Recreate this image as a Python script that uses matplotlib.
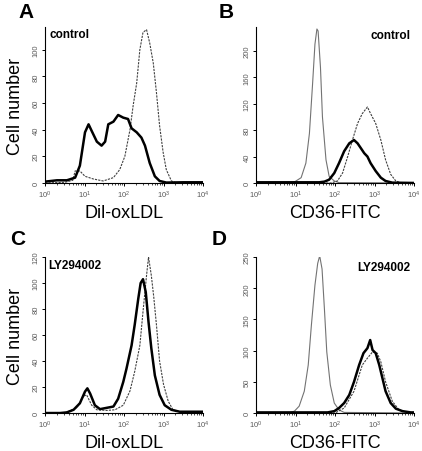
import matplotlib
matplotlib.use("Agg")
import matplotlib.pyplot as plt
import numpy as np

plt.rcParams['font.family'] = ['Liberation Sans', 'DejaVu Sans']

# --- data (x as log10 of fluorescence, y as cell number) ---
# A: control, Dil-oxLDL
a_solid_lx = [0.0, 0.3, 0.55, 0.76, 0.88, 1.01, 1.1, 1.18, 1.31, 1.43, 1.52, 1.6, 1.73, 1.85,
              1.98, 2.1, 2.19, 2.32, 2.44, 2.53, 2.65, 2.78, 2.9, 3.07, 3.5, 4.0]
a_solid_y = [1, 2, 2, 4, 13, 38, 44, 39, 31, 28, 31, 44, 46, 51,
             49, 48, 41, 38, 34, 28, 15, 5, 1.5, 0.3, 0.5, 0.5]
a_dot_lx = [0.0, 0.5, 0.7, 0.76, 0.88, 1.01, 1.22, 1.47, 1.73, 1.89, 2.02, 2.15, 2.23, 2.32,
            2.4, 2.48, 2.57, 2.65, 2.74, 2.82, 2.9, 2.99, 3.07, 3.2, 3.33, 4.0]
a_dot_y = [0, 0.5, 2, 9, 9, 5, 3, 1.5, 4, 10, 20, 40, 58, 75,
           100, 113, 115, 105, 90, 68, 43, 23, 10, 1.5, 0, 0]

# B: control, CD36-FITC
b_iso_lx = [0.0, 0.8, 0.97, 1.14, 1.26, 1.35, 1.43, 1.49, 1.54, 1.57, 1.63, 1.68, 1.77, 1.85,
            1.98, 2.1, 4.0]
b_iso_y = [0, 0, 1.5, 8, 30, 75, 150, 210, 233, 230, 175, 100, 35, 10, 3, 0.5, 0]
b_solid_lx = [0.0, 1.6, 1.73, 1.85, 1.98, 2.1, 2.23, 2.36, 2.48, 2.57, 2.65, 2.74, 2.82, 2.9,
              3.03, 3.16, 3.28, 3.45, 4.0]
b_solid_y = [1, 1, 2, 5, 15, 30, 48, 60, 65, 60, 53, 45, 40, 30, 18, 8, 3, 0.5, 0]
b_dot_lx = [0.0, 1.9, 2.06, 2.19, 2.32, 2.44, 2.57, 2.69, 2.82, 2.9, 3.03, 3.16, 3.28, 3.41,
            3.54, 3.66, 4.0]
b_dot_y = [0, 0, 3, 15, 40, 65, 90, 105, 115, 105, 90, 65, 35, 13, 3, 0.5, 0]

# C: LY294002, Dil-oxLDL
c_solid_lx = [0.0, 0.38, 0.55, 0.72, 0.88, 1.01, 1.07, 1.14, 1.26, 1.39, 1.56, 1.73, 1.85, 1.98,
              2.06, 2.19, 2.27, 2.36, 2.42, 2.48, 2.55, 2.62, 2.69, 2.78, 2.9, 3.03, 3.2, 3.41, 4.0]
c_solid_y = [0, 0, 0.5, 2.5, 7.5, 16.5, 19, 15, 6, 3, 4, 5, 11, 24,
             34, 52, 68, 88, 100, 103, 93, 70, 50, 29, 14, 6, 2.5, 1, 1]
c_dot_lx = [0.0, 0.5, 0.8, 0.97, 1.05, 1.18, 1.31, 1.56, 1.77, 1.98, 2.15, 2.27, 2.4, 2.48,
            2.57, 2.62, 2.69, 2.75, 2.82, 2.9, 3.0, 3.12, 3.24, 3.41, 4.0]
c_dot_y = [0, 0, 4, 13, 14, 6, 2.5, 2, 2.5, 6, 17, 32, 52, 78,
           106, 120, 106, 90, 68, 40, 22, 9, 2.5, 1, 0.5]

# D: LY294002, CD36-FITC
d_iso_lx = [0.0, 0.8, 0.97, 1.09, 1.22, 1.32, 1.4, 1.49, 1.56, 1.61, 1.67, 1.73, 1.79, 1.88,
            1.98, 2.1, 2.23, 4.0]
d_iso_y = [0, 0, 3, 11, 35, 77, 141, 205, 240, 252, 231, 167, 98, 45, 16, 5, 1, 0]
d_solid_lx = [0.0, 1.81, 1.98, 2.1, 2.23, 2.36, 2.48, 2.61, 2.72, 2.82, 2.89, 2.95, 3.03, 3.12,
              3.2, 3.28, 3.41, 3.54, 3.71, 3.92, 4.0]
d_solid_y = [1, 1, 3, 8, 16, 29, 50, 77, 96, 104, 117, 101, 96, 77,
             56, 35, 16, 7, 3, 1, 1]
d_dot_lx = [0.0, 2.0, 2.23, 2.48, 2.69, 2.82, 2.95, 3.07, 3.16, 3.28, 3.45, 3.62, 3.83, 4.0]
d_dot_y = [0, 0, 8, 35, 77, 88, 98, 96, 82, 50, 19, 5, 1, 0]

panels = ['A', 'B', 'C', 'D']
treatments = ['control', 'control', 'LY294002', 'LY294002']
xlabels = ['Dil-oxLDL', 'CD36-FITC', 'Dil-oxLDL', 'CD36-FITC']
ylims = [117, 236, 120, 250]
yticks = [[0, 20, 40, 60, 80, 100], [0, 40, 80, 120, 160, 200],
          [0, 20, 40, 60, 80, 100, 120], [0, 50, 100, 150, 200, 250]]

fig = plt.figure(figsize=(4.22, 4.52), dpi=100)
rects = [[0.107, 0.593, 0.374, 0.345], [0.607, 0.593, 0.374, 0.345],
         [0.107, 0.084, 0.374, 0.345], [0.607, 0.084, 0.374, 0.345]]
axes = [fig.add_axes(r) for r in rects]

def lin(lx):
    return 10 ** np.array(lx)

dash = (0, (2, 1))
axA, axB, axC, axD = axes
axA.plot(lin(a_dot_lx), a_dot_y, color='0.25', lw=0.8, linestyle=dash)
axA.plot(lin(a_solid_lx), a_solid_y, color='black', lw=1.8)
axB.plot(lin(b_iso_lx), b_iso_y, color='0.45', lw=0.8)
axB.plot(lin(b_dot_lx), b_dot_y, color='0.25', lw=0.8, linestyle=dash)
axB.plot(lin(b_solid_lx), b_solid_y, color='black', lw=1.8)
axC.plot(lin(c_dot_lx), c_dot_y, color='0.25', lw=0.8, linestyle=dash)
axC.plot(lin(c_solid_lx), c_solid_y, color='black', lw=1.8)
axD.plot(lin(d_iso_lx), d_iso_y, color='0.45', lw=0.8)
axD.plot(lin(d_dot_lx), d_dot_y, color='0.25', lw=0.8, linestyle=dash)
axD.plot(lin(d_solid_lx), d_solid_y, color='black', lw=1.8)

# panel letter / treatment label positions (axes fractions)
letter_pos = [(-0.17, 1.10), (-0.24, 1.10), (-0.22, 1.12), (-0.28, 1.12)]
treat_pos = [(0.03, 0.955, 'left'), (0.98, 0.95, 'right'),
             (0.02, 0.95, 'left'), (0.98, 0.935, 'right')]

for i, ax in enumerate(axes):
    ax.set_xscale('log')
    ax.set_xlim(1, 1e4)
    ax.set_ylim(0, ylims[i])
    ax.set_yticks(yticks[i])
    ax.spines['top'].set_visible(False)
    ax.spines['right'].set_visible(False)
    ax.spines['left'].set_linewidth(0.8)
    ax.spines['bottom'].set_linewidth(0.8)
    ax.tick_params(axis='both', which='major', labelsize=5.5, labelcolor='0.35',
                   length=2.5, width=0.7, pad=1.5)
    ax.tick_params(axis='x', which='minor', length=1.5, width=0.5)
    ax.tick_params(axis='y', labelrotation=90)
    for t in ax.get_yticklabels():
        t.set_verticalalignment('center')
    ax.set_xlabel(xlabels[i], fontsize=13, labelpad=3)
    lx, ly = letter_pos[i]
    ax.text(lx, ly, panels[i], transform=ax.transAxes,
            fontsize=15, fontweight='bold', va='center', ha='left')
    tx, ty, ha = treat_pos[i]
    ax.text(tx, ty, treatments[i], transform=ax.transAxes, fontsize=8.5,
            fontweight='bold', ha=ha, va='center')
    if i % 2 == 0:
        ax.set_ylabel('Cell number', fontsize=13, labelpad=6)

fig.savefig('out.png', dpi=100)
